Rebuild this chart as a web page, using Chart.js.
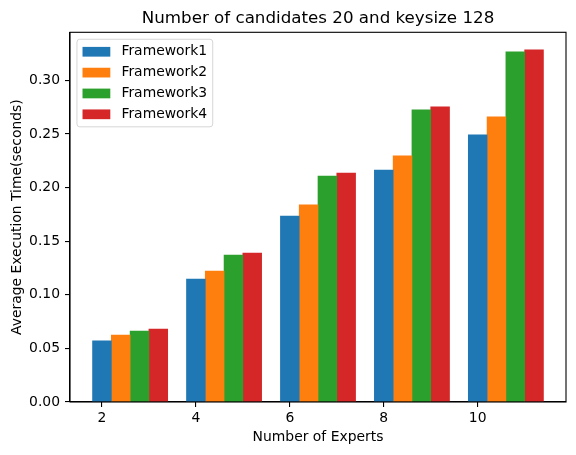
<!DOCTYPE html>
<html>
<head>
<meta charset="utf-8">
<script src="https://cdn.jsdelivr.net/npm/chart.js@4.4.1/dist/chart.umd.min.js"></script>
<style>
  html, body { margin: 0; padding: 0; background: #fff; }
  #chart { display: block; }
</style>
</head>
<body>
<canvas id="chart" width="576" height="455"></canvas>
<script>
// Values
const experts = [2, 4, 6, 8, 10];
const seriesNames = ['Framework1', 'Framework2', 'Framework3', 'Framework4'];
const framework1 = [0.0570, 0.1147, 0.1735, 0.2164, 0.2491];
const framework2 = [0.0625, 0.1222, 0.1838, 0.2295, 0.2659];
const framework3 = [0.0662, 0.1371, 0.2108, 0.2724, 0.3265];
const framework4 = [0.0681, 0.1390, 0.2136, 0.2752, 0.3284];
const xTicks = [2, 4, 6, 8, 10];
const yTicks = [0.00, 0.05, 0.10, 0.15, 0.20, 0.25, 0.30];
const chartTitle = 'Number of candidates 20 and keysize 128';

const colors = ['#1f77b4', '#ff7f0e', '#2ca02c', '#d62728'];
const barWidth = 0.4;
const FONT = '"DejaVu Sans", sans-serif';
const FS = 13.9;

const allSeries = [framework1, framework2, framework3, framework4];

// matplotlib style autoscale: 5% margins, y sticks at 0
const xLo = experts[0] - barWidth / 2;
const xHi = experts[experts.length - 1] + (allSeries.length - 1) * barWidth + barWidth / 2;
const xPad = (xHi - xLo) * 0.05;
const yHi = Math.max(...allSeries.flat()) * 1.05;

const datasets = allSeries.map((vals, i) => ({
    label: seriesNames[i],
    data: experts.map((x, j) => ({ x: x + i * barWidth, y: vals[j] })),
    backgroundColor: colors[i],
    borderWidth: 0,
    grouped: false,
    categoryPercentage: 1,
    barPercentage: 1
}));

// Title centred on the axes, frame on all four sides, boxed legend top-left
const framePlugin = {
    id: 'frame',
    afterDatasetsDraw(chart) {
        const { ctx, chartArea: a } = chart;
        ctx.save();
        ctx.strokeStyle = '#000';
        ctx.lineWidth = 1.1;
        ctx.strokeRect(a.left, a.top, a.right - a.left, a.bottom - a.top);

        ctx.fillStyle = '#000';
        ctx.font = '16.7px ' + FONT;
        ctx.textAlign = 'center';
        ctx.textBaseline = 'middle';
        ctx.fillText(chartTitle, (a.left + a.right) / 2, 19);

        ctx.font = FS + 'px ' + FONT;
        ctx.textAlign = 'left';
        const labels = chart.data.datasets.map(d => d.label);
        const textW = Math.max(...labels.map(l => ctx.measureText(l).width));
        const pad = 0.4 * FS, handleW = 2 * FS, gap = 0.8 * FS, rowH = 1.5 * FS;
        const x0 = a.left + 0.5 * FS, y0 = a.top + 0.5 * FS;
        const w = pad + handleW + gap + textW + pad;
        const h = 2 * pad + labels.length * FS + (labels.length - 1) * 0.5 * FS;
        ctx.beginPath();
        ctx.roundRect(x0, y0, w, h, 0.2 * FS);
        ctx.fillStyle = 'rgba(255,255,255,0.8)';
        ctx.fill();
        ctx.strokeStyle = '#d6d6d6';
        ctx.lineWidth = 1;
        ctx.stroke();
        labels.forEach((l, i) => {
            const cy = y0 + pad + FS / 2 + i * rowH;
            ctx.fillStyle = chart.data.datasets[i].backgroundColor;
            ctx.fillRect(x0 + pad, cy - 0.35 * FS, handleW, 0.7 * FS);
            ctx.fillStyle = '#000';
            ctx.fillText(l, x0 + pad + handleW + gap, cy);
        });
        ctx.restore();
    }
};

new Chart(document.getElementById('chart'), {
    type: 'bar',
    data: { datasets },
    options: {
        responsive: false,
        animation: false,
        devicePixelRatio: 1,
        layout: { padding: { left: 0, right: 10, top: 32.3, bottom: 0 } },
        plugins: {
            legend: { display: false },
            tooltip: { enabled: false },
            title: { display: false }
        },
        scales: {
            x: {
                type: 'linear',
                min: xLo - xPad,
                max: xHi + xPad,
                offset: false,
                afterBuildTicks: s => { s.ticks = xTicks.map(v => ({ value: v })); },
                afterFit: s => { s.height = 53; },
                ticks: {
                    color: '#000',
                    font: { family: FONT, size: FS },
                    padding: 3,
                    maxRotation: 0,
                    callback: v => String(v)
                },
                grid: { offset: false, drawOnChartArea: false, drawTicks: true, tickLength: 5, color: '#000', lineWidth: 1.1 },
                border: { display: true, color: '#000', width: 1.1 },
                title: {
                    display: true,
                    text: 'Number of Experts',
                    color: '#000',
                    font: { family: FONT, size: FS },
                    padding: { top: 0, bottom: 9.6 }
                }
            },
            y: {
                min: 0,
                max: yHi,
                afterBuildTicks: s => { s.ticks = yTicks.map(v => ({ value: v })); },
                afterFit: s => { s.width = 70; },
                ticks: {
                    color: '#000',
                    font: { family: FONT, size: FS },
                    padding: 5,
                    callback: v => Number(v).toFixed(2)
                },
                grid: { drawOnChartArea: false, drawTicks: true, tickLength: 5, color: '#000', lineWidth: 1.1 },
                border: { display: true, color: '#000', width: 1.1 },
                title: {
                    display: true,
                    text: 'Average Execution Time(seconds)',
                    color: '#000',
                    font: { family: FONT, size: FS },
                    padding: { top: 8.6, bottom: 0 }
                }
            }
        }
    },
    plugins: [framePlugin]
});
</script>
</body>
</html>
